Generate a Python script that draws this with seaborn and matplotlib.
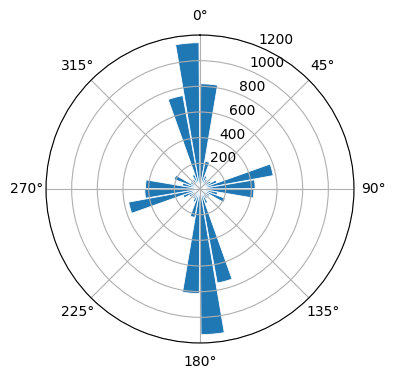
import numpy as np
import matplotlib
matplotlib.use("Agg")
import matplotlib.pyplot as plt
import seaborn as sns

# bin start angles (degrees, compass, clockwise from north)
bin_starts_deg = [0, 10, 20, 30, 40, 50, 60, 70, 80, 90, 100, 110,
                  120, 130, 140, 150, 160, 170, 180, 190, 200, 210, 220, 230,
                  240, 250, 260, 270, 280, 290, 300, 310, 320, 330, 340, 350]
counts = [820, 220, 110, 90, 80, 100, 140, 580, 430, 420, 140, 210,
          90, 70, 90, 120, 745, 1135, 815, 225, 110, 90, 80, 100,
          140, 565, 430, 425, 140, 215, 90, 70, 90, 120, 740, 1140]
r_ticks = [200, 400, 600, 800, 1000, 1200]

color = sns.color_palette("tab10")[0]

fig = plt.figure(figsize=(3.96, 3.80), dpi=100)
ax = fig.add_axes([46/396, 37/380, 308/396, 308/380], projection="polar")
ax.set_theta_zero_location("N")
ax.set_theta_direction(-1)

bin_w = np.deg2rad(10)
theta = np.deg2rad(np.array(bin_starts_deg)) + bin_w / 2
ax.bar(theta, counts, width=bin_w * 0.92, align="center", color=color,
       edgecolor="white", linewidth=0.6, bottom=0)

ax.set_ylim(0, 1200)
ax.set_yticks(r_ticks)
ax.set_rlabel_position(22.5)

fig.savefig("out.png", dpi=100)
